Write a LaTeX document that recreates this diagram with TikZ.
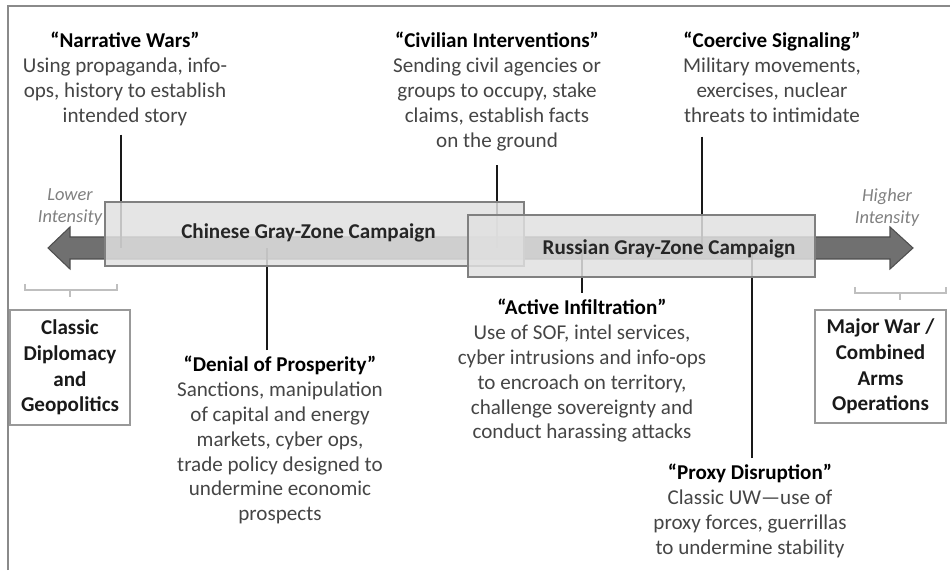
\documentclass[tikz,border=0pt]{standalone}
\usepackage{fontspec}
\setmainfont{Carlito}
\definecolor{txtgray}{HTML}{454545}
\definecolor{arrowgray}{HTML}{707070}
\definecolor{boxgray}{HTML}{E0E0E0}
\definecolor{framegray}{HTML}{8A8A8A}
\begin{document}
\begin{tikzpicture}[font=\fontsize{12}{14.2}\selectfont,
  desc/.style={align=center, text=txtgray, inner sep=3pt, anchor=north},
  link/.style={line width=1.4pt, black!90},
  campaign/.style={fill=boxgray, fill opacity=0.85, draw=gray, line width=0.9pt},
  endbox/.style={draw=gray!80, line width=0.9pt, align=center, text=black!90,
    font=\fontsize{12}{14.7}\selectfont\bfseries},
  intensity/.style={align=center, text=gray, anchor=north,
    font=\fontsize{10.5}{13}\selectfont\itshape},
  brace/.style={gray!50, line width=0.8pt}]
  \useasboundingbox (0,0) rectangle (19,11.4);
  % Khung
  \draw[framegray, line width=1.2pt] (0.16,0) -- (0.16,11.28) -- (19,11.28);
  % Các điểm trên trục
  \path
  (2.42,6.44) coordinate (pNarr)
  (9.94,6.44) coordinate (pCivil)
  (14.04,6.44) coordinate (pCoerc)
  (5.34,6.44) coordinate (pDenial)
  (11.64,6.44) coordinate (pActive)
  (15.04,6.44) coordinate (pProxy);
  % Các mô tả phía trên
  \node[desc] (narr) at (2.5,10.88) {\textbf{\textcolor{black}{“Narrative Wars”}}\\
    Using propaganda, info-\\ ops, history to establish\\ intended story};
  \node[desc] (civil) at (9.94,10.88) {\textbf{\textcolor{black}{“Civilian Interventions”}}\\
    Sending civil agencies or\\ groups to occupy, stake\\ claims, establish facts\\ on the ground};
  \node[desc] (coerc) at (15.44,10.88) {\textbf{\textcolor{black}{“Coercive Signaling”}}\\
    Military movements,\\ exercises, nuclear\\ threats to intimidate};
  % Các mô tả phía dưới
  \node[desc] (denial) at (5.6,4.4) {\textbf{\textcolor{black}{“Denial of Prosperity”}}\\
    Sanctions, manipulation\\ of capital and energy\\ markets, cyber ops,\\
    trade policy designed to\\ undermine economic\\ prospects};
  \node[desc] (active) at (11.64,5.54) {\textbf{\textcolor{black}{“Active Infiltration”}}\\
    Use of SOF, intel services,\\ cyber intrusions and info-ops\\ to encroach on territory,\\
    challenge sovereignty and\\ conduct harassing attacks};
  \node[desc] (proxy) at (15.0,2.24) {\textbf{\textcolor{black}{“Proxy Disruption”}}\\
    Classic UW—use of\\ proxy forces, guerrillas\\ to undermine stability};
  % Mũi tên hai chiều
  \fill[arrowgray, draw=arrowgray!70!black, line width=0.6pt]
  (0.96,6.44) -- (1.4,6.86) -- (1.4,6.66) -- (17.8,6.66) -- (17.8,6.86)
  -- (18.26,6.44) -- (17.8,6.02) -- (17.8,6.22) -- (1.4,6.22) -- (1.4,6.02) -- cycle;
  % Đường nối
  \foreach \n/\p/\s in {narr/pNarr/2pt, civil/pCivil/5pt, coerc/pCoerc/5pt}
  \draw[link, shorten <=\s] (\n.south -| \p) -- (\p);
  \foreach \n/\p in {denial/pDenial, active/pActive, proxy/pProxy}
  \draw[link] (\n.north -| \p) -- (\p);
  % Hai chiến dịch
  \draw[campaign] (2.1,6.08) rectangle (10.48,7.36);
  \draw[campaign] (9.36,5.86) rectangle (16.3,7.1);
  \node[font=\fontsize{12}{14}\selectfont\bfseries, text=black!85] (china) at (6.17,6.74) {Chinese Gray-Zone Campaign};
  \node[font=\fontsize{12}{14}\selectfont\bfseries, text=black!85] (russia) at (13.38,6.42) {Russian Gray-Zone Campaign};
  % Cường độ
  \node[intensity] (lower) at (1.4,7.76) {Lower\\ Intensity};
  \node[intensity] (higher) at (17.74,7.76) {Higher\\ Intensity};
  \draw[brace] (0.5,5.72) -- (0.5,5.6) -- (2.34,5.6) -- (2.34,5.72);
  \draw[brace] (1.4,5.6) -- (1.4,5.46);
  \draw[brace] (17.1,5.66) -- (17.1,5.54) -- (18.92,5.54) -- (18.92,5.66);
  \draw[brace] (18.0,5.54) -- (18.0,5.4);
  % Hai đầu thang
  \node[endbox, minimum width=2.4cm, minimum height=2.3cm] (diplo) at (1.4,4.05)
  {Classic\\ Diplomacy\\ and\\ Geopolitics};
  \node[endbox, minimum width=2.62cm, minimum height=2.26cm] (war) at (17.61,4.07)
  {Major War /\\ Combined\\ Arms\\ Operations};
\end{tikzpicture}
\end{document}
